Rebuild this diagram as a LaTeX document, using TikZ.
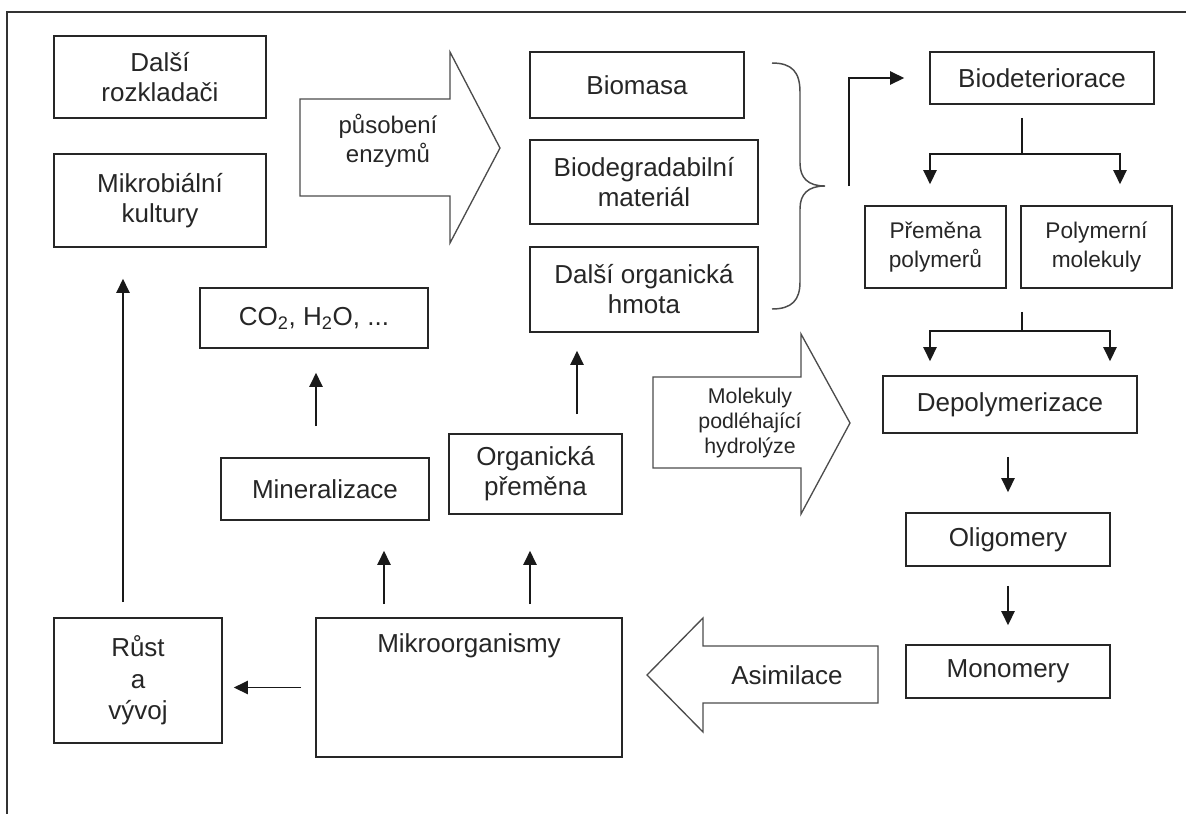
\documentclass[tikz,border=0pt]{standalone}
\usepackage{fontspec}
\setmainfont{Liberation Sans}
\usetikzlibrary{arrows.meta}

\tikzset{
  box/.style={draw=black!85, line width=1.3pt, inner sep=0pt, align=center},
  sz/.style 2 args={minimum width=#1*0.75pt, minimum height=#2*0.75pt},
  arr/.style={draw=black!90, line width=1.2pt, -{Triangle[length=10.5pt,width=10pt]}},
  fork/.style={draw=black!90, line width=1.2pt},
  blk/.style={draw=black!70, line width=1pt, line join=miter},
  brace/.style={draw=black!70, line width=1.1pt},
}

\begin{document}
\begin{tikzpicture}[x=0.75pt,y=0.75pt,yscale=-1,xscale=1, font=\fontsize{19.5}{22.5}\selectfont, text=black!85]
\useasboundingbox (0,0) rectangle (1186,814);
% frame
\draw[black!80, line width=1.4pt] (1186,12) -- (7,12) -- (7,814);

% left column
\node[box, sz={212}{82}] (rozkl) at (160,77) {Další\\rozkladači};
\node[box, sz={212}{93}] (kult) at (160,200.5) {Mikrobiální\\kultury};
\node[box, sz={168}{125}, font=\fontsize{19.5}{23.6}\selectfont] (rust) at (138,680.5) {Růst\\a\\vývoj};

% middle
\node[box, sz={228}{60}] (co2) at (314,318) {CO\textsubscript{2}, H\textsubscript{2}O, ...};
\node[box, sz={208}{62}] (miner) at (325,489) {Mineralizace};
\node[box, sz={173}{80}] (organ) at (535.5,474) {Organická\\přeměna};
\node[box, sz={306}{139}, label={[anchor=center, yshift=-21.75pt]north:Mikroorganismy}] (mikro) at (469,687.5) {};

\node[box, sz={214}{66}] (biomasa) at (637,85) {Biomasa};
\node[box, sz={228}{84}] (biodeg) at (644,182) {Biodegradabilní\\materiál};
\node[box, sz={228}{85}] (dalsiorg) at (644,289.5) {Další organická\\hmota};

% right column
\node[box, sz={224}{52}] (biodet) at (1042,78) {Biodeteriorace};
\node[box, sz={141}{82}, font=\fontsize{17}{21.5}\selectfont] (premena) at (935.5,247) {Přeměna\\polymerů};
\node[box, sz={151}{82}, font=\fontsize{17}{21.5}\selectfont] (polymer) at (1096.5,247) {Polymerní\\molekuly};
\node[box, sz={254}{57}] (depoly) at (1010,404.5) {Depolymerizace};
\node[box, sz={204}{53}] (oligo) at (1008,539.5) {Oligomery};
\node[box, sz={204}{53}] (mono) at (1008,671.5) {Monomery};

% block arrows
\draw[blk] (300,99) -- (450,99) -- (450,52) -- (500,148) -- (450,243) -- (450,196) -- (300,196) -- cycle;
\node[align=center, font=\fontsize{18}{22}\selectfont] (enzym) at (388,141) {působení\\enzymů};
\draw[blk] (653,377) -- (801,377) -- (801,334) -- (850,423) -- (801,514) -- (801,468) -- (653,468) -- cycle;
\node[align=center, font=\fontsize{16}{18.5}\selectfont] (hydro) at (750,423) {Molekuly\\podléhající\\hydrolýze};
\draw[blk] (878,646) -- (703,646) -- (703,618) -- (647,675) -- (703,732) -- (703,703) -- (878,703) -- cycle;
\node (asim) at (787,675) {Asimilace};

% brace
\coordinate (brtip) at (825,186);
\draw[brace] (772,63) .. controls (792,63) and (800,72) .. (800,92) -- (800,163)
  .. controls (800,178) and (808,186) .. (brtip)
  .. controls (808,186) and (800,194) .. (800,209) -- (800,282)
  .. controls (800,300) and (792,309) .. (772,309);
\draw[arr, shorten >=18.75pt] ([xshift=18pt]brtip) |- (biodet.west);

% forks
\coordinate (fork1) at (1022,154);
\coordinate (fork2) at (1022,331);
\draw[fork] (fork1 |- biodet.south) ++(0,13) -- (fork1);
\draw[arr, shorten >=15.75pt] (fork1) -| ([xshift=-4.125pt]premena.north);
\draw[arr, shorten >=15.75pt] (fork1) -| ([xshift=17.625pt]polymer.north);
\draw[fork] (fork2 |- premena.south) ++(0,23) -- (fork2);
\draw[arr, shorten >=10.5pt] (fork2) -| ([xshift=-60pt]depoly.north);
\draw[arr, shorten >=10.5pt] (fork2) -| ([xshift=75pt]depoly.north);

% straight arrows
\draw[arr, shorten <=17.25pt, shorten >=15pt] (oligo.north |- depoly.south) -- (oligo.north);
\draw[arr, shorten <=14.25pt, shorten >=14.25pt] (oligo.south) -- (mono.north);
\draw[arr, shorten <=9.75pt, shorten >=22.5pt] ([xshift=-63.75pt]mikro.north) coordinate (m1) -- (m1 |- miner.south);
\draw[arr, shorten <=9.75pt, shorten >=27pt] ([xshift=45.75pt]mikro.north) coordinate (m2) -- (m2 |- organ.south);
\draw[arr, shorten <=23.25pt, shorten >=18pt] ([xshift=-6.75pt]miner.north) coordinate (m3) -- (m3 |- co2.south);
\draw[arr, shorten <=14.25pt, shorten >=13.5pt] ([xshift=31.125pt]organ.north) coordinate (m4) -- (m4 |- dalsiorg.south);
\draw[arr, shorten <=10.5pt, shorten >=8.25pt] (mikro.west) -- (mikro.west -| rust.east);
\draw[arr, shorten <=11.25pt, shorten >=23.25pt] ([xshift=-11.25pt]rust.north) coordinate (m6) -- (m6 |- kult.south);
\end{tikzpicture}
\end{document}
